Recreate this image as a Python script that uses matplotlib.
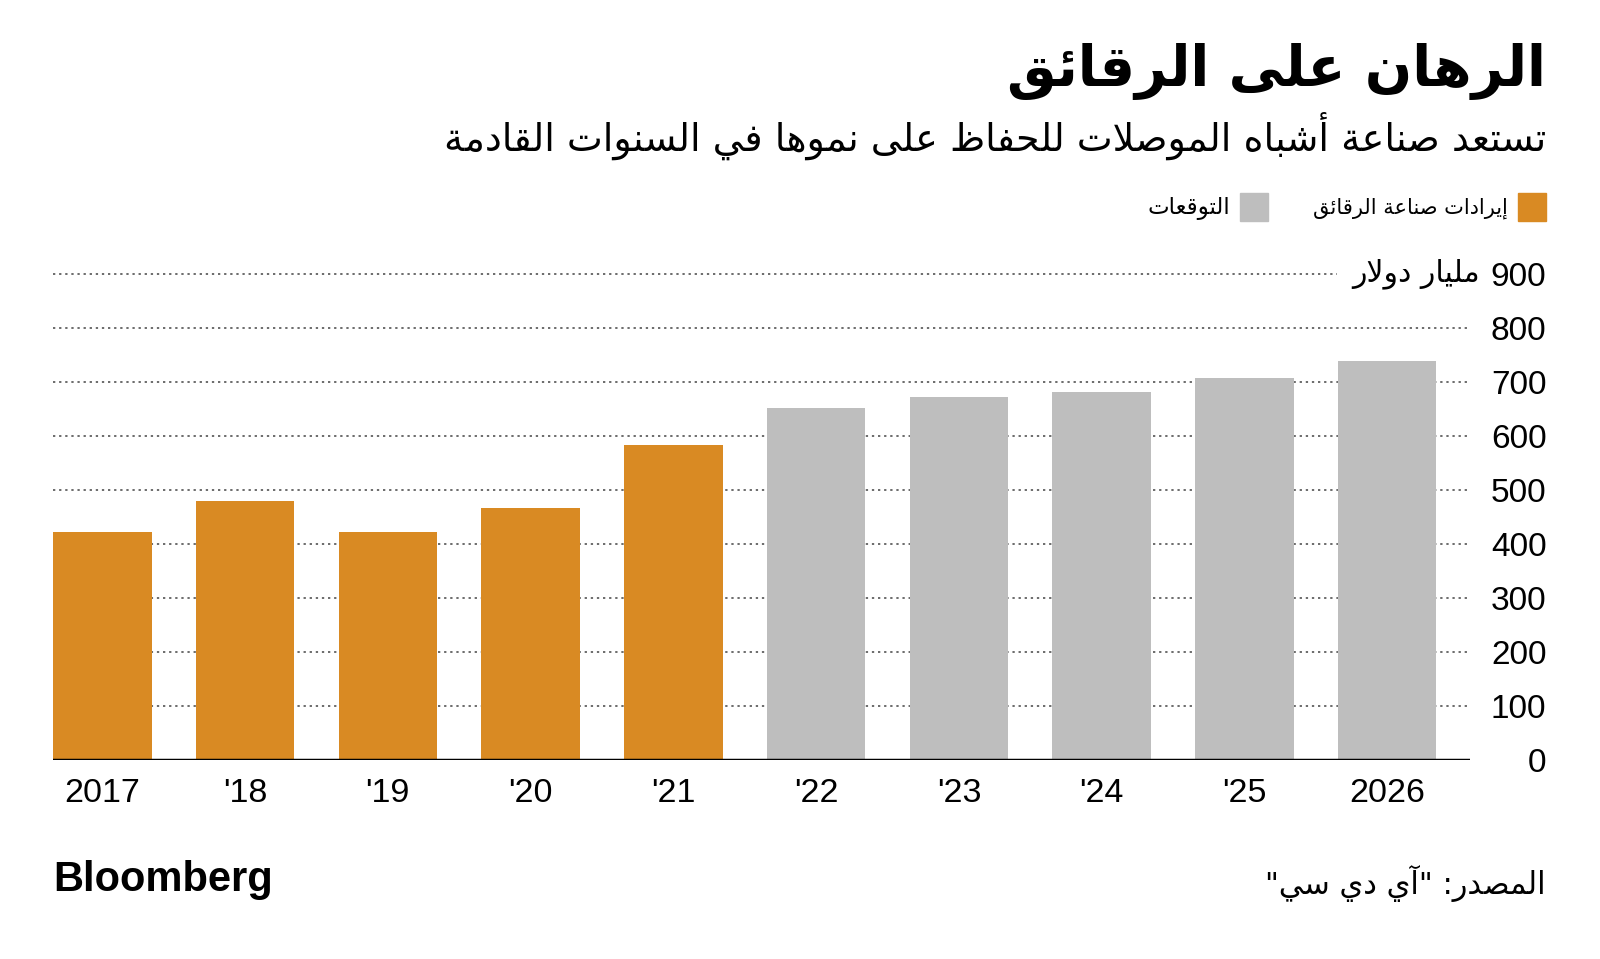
import matplotlib
matplotlib.use("Agg")
import matplotlib.pyplot as plt
from matplotlib.patches import Rectangle

# data (billion dollars)
years = ["2017", "'18", "'19", "'20", "'21", "'22", "'23", "'24", "'25", "2026"]
revenue = [422, 479, 421, 466, 583, 651, 672, 680, 706, 738]
is_forecast = [False, False, False, False, False, True, True, True, True, True]
y_ticks = [0, 100, 200, 300, 400, 500, 600, 700, 800, 900]

title = "الرهان على الرقائق"
subtitle = "تستعد صناعة أشباه الموصلات للحفاظ على نموها في السنوات القادمة"
legend_actual = "إيرادات صناعة الرقائق"
legend_forecast = "التوقعات"
unit_label = "مليار دولار"
source = 'المصدر: "آي دي سي"'

orange = "#D98A23"
gray = "#BEBEBE"

# minimal arabic shaping: contextual forms + reversal, since matplotlib has no shaping
FORMS = {
    'ء': (0xFE80, 1), 'آ': (0xFE81, 2), 'أ': (0xFE83, 2), 'ؤ': (0xFE85, 2),
    'إ': (0xFE87, 2), 'ئ': (0xFE89, 4), 'ا': (0xFE8D, 2), 'ب': (0xFE8F, 4),
    'ة': (0xFE93, 2), 'ت': (0xFE95, 4), 'ث': (0xFE99, 4), 'ج': (0xFE9D, 4),
    'ح': (0xFEA1, 4), 'خ': (0xFEA5, 4), 'د': (0xFEA9, 2), 'ذ': (0xFEAB, 2),
    'ر': (0xFEAD, 2), 'ز': (0xFEAF, 2), 'س': (0xFEB1, 4), 'ش': (0xFEB5, 4),
    'ص': (0xFEB9, 4), 'ض': (0xFEBD, 4), 'ط': (0xFEC1, 4), 'ظ': (0xFEC5, 4),
    'ع': (0xFEC9, 4), 'غ': (0xFECD, 4), 'ف': (0xFED1, 4), 'ق': (0xFED5, 4),
    'ك': (0xFED9, 4), 'ل': (0xFEDD, 4), 'م': (0xFEE1, 4), 'ن': (0xFEE5, 4),
    'ه': (0xFEE9, 4), 'و': (0xFEED, 2), 'ى': (0xFEEF, 2), 'ي': (0xFEF1, 4),
}
LAM_ALEF = {'آ': 0xFEF5, 'أ': 0xFEF7, 'إ': 0xFEF9, 'ا': 0xFEFB}


def ar(text):
    res = ""
    prev_dual = False
    i = 0
    while i < len(text):
        c = text[i]
        nxt = text[i + 1] if i + 1 < len(text) else ""
        if c == 'ل' and nxt in LAM_ALEF:
            res += chr(LAM_ALEF[nxt] + (1 if prev_dual else 0))
            prev_dual = False
            i += 2
            continue
        if c in FORMS:
            base, k = FORMS[c]
            after = k == 4 and nxt in FORMS
            if k == 1:
                form = base
            elif prev_dual and after:
                form = base + 3
            elif prev_dual:
                form = base + 1
            elif after:
                form = base + 2
            else:
                form = base
            res += chr(form)
            prev_dual = k == 4
        else:
            res += c
            prev_dual = False
        i += 1
    return res[::-1]


W, H = 1600, 959
fig = plt.figure(figsize=(W / 100, H / 100), dpi=100)
ax = fig.add_axes([53 / W, 1 - 760 / H, (1470 - 53) / W, (760 - 273.5) / H])

x = list(range(len(years)))
colors = [gray if f else orange for f in is_forecast]
ax.bar(x, revenue, width=0.69, color=colors, zorder=3)

ax.set_xlim(-0.345, 9.58)
ax.set_ylim(0, 900)

for v in y_ticks[1:-1]:
    ax.axhline(v, color="#444444", lw=1.1, ls=(0, (1.5, 2.5)), zorder=1)
ax.axhline(900, xmax=0.906, color="#444444", lw=1.1, ls=(0, (1.5, 2.5)), zorder=1, clip_on=False)
ax.axhline(0, color="black", lw=2.5, zorder=4)

for s in ax.spines.values():
    s.set_visible(False)

ax.set_xticks(x)
ax.set_xticklabels(years, fontsize=24.5, family="Liberation Sans")
ax.tick_params(axis="x", length=0, pad=13)

ax.yaxis.tick_right()
ax.set_yticks(y_ticks)
ax.set_yticklabels([str(v) for v in y_ticks], fontsize=24, family="Liberation Sans")
ax.tick_params(axis="y", length=0, pad=55)
for lab in ax.get_yticklabels():
    lab.set_ha("right")

fig.text(1480 / W, 1 - 273.5 / H, ar(unit_label), fontsize=21.5, family="DejaVu Sans",
         ha="right", va="center")

fig.text(1546 / W, 1 - 71 / H, ar(title), fontsize=40, fontweight="bold",
         family="DejaVu Sans", ha="right", va="center")
fig.text(1546 / W, 1 - 136 / H, ar(subtitle), fontsize=27.4, family="DejaVu Sans",
         ha="right", va="center")

# legend
fig.patches.append(Rectangle((1518 / W, 1 - 221 / H), 28 / W, 28 / H,
                             transform=fig.transFigure, color=orange))
fig.text(1508 / W, 1 - 214 / H, ar(legend_actual), fontsize=15, family="DejaVu Sans",
         ha="right", va="baseline")
fig.patches.append(Rectangle((1240 / W, 1 - 221 / H), 28 / W, 28 / H,
                             transform=fig.transFigure, color=gray))
fig.text(1230 / W, 1 - 214 / H, ar(legend_forecast), fontsize=16.5, family="DejaVu Sans",
         ha="right", va="baseline")

fig.text(1546 / W, 1 - 883 / H, ar(source), fontsize=22, family="DejaVu Sans",
         ha="right", va="center")
fig.text(53 / W, 1 - 880 / H, "Bloomberg", fontsize=30, fontweight="bold",
         family="Liberation Sans", ha="left", va="center")

fig.savefig("out.png", dpi=100)
